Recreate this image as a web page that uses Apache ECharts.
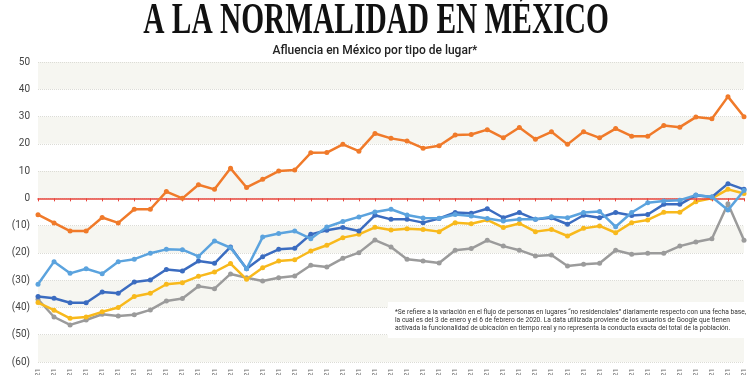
<!DOCTYPE html>
<html>
<head>
<meta charset="utf-8">
<script src="https://cdn.jsdelivr.net/npm/echarts@6/dist/echarts.min.js"></script>
<style>
  html, body { margin: 0; padding: 0; background: #fff; }
  #chart { width: 750px; height: 375px; }
</style>
</head>
<body>
<div id="chart"></div>
<script>
// semanas (lunes) de 2021
const weeks = [
  '04/01/21', '11/01/21', '18/01/21', '25/01/21', '01/02/21', '08/02/21', '15/02/21', '22/02/21',
  '01/03/21', '08/03/21', '15/03/21', '22/03/21', '29/03/21', '05/04/21', '12/04/21', '19/04/21',
  '26/04/21', '03/05/21', '10/05/21', '17/05/21', '24/05/21', '31/05/21', '07/06/21', '14/06/21',
  '21/06/21', '28/06/21', '05/07/21', '12/07/21', '19/07/21', '26/07/21', '02/08/21', '09/08/21',
  '16/08/21', '23/08/21', '30/08/21', '06/09/21', '13/09/21', '20/09/21', '27/09/21', '04/10/21',
  '11/10/21', '18/10/21', '25/10/21', '01/11/21', '08/11/21'
]

const orangeValues = [
  -6, -9, -12, -12, -7, -9, -4, -4, 2.5, 0, 5, 3.3, 11, 4, 7, 10,
  10.4, 16.7, 16.8, 19.8, 17.3, 23.8, 22, 21, 18.4, 19.3, 23.2, 23.4, 25.2, 22.2, 26, 21.7,
  24.4, 19.8, 24.4, 22.2, 25.6, 22.8, 22.8, 26.7, 26.1, 29.8, 29.2, 37.3, 29.9
]
const lightBlueValues = [
  -31.5, -23.2, -27.5, -25.8, -27.6, -23.2, -22.3, -20.1, -18.7, -18.8, -21.3, -15.6, -18.1, -25.8, -14.2, -12.9,
  -12, -14.8, -10.5, -8.5, -6.8, -5, -4, -6.1, -7.2, -7.3, -5.9, -6.5, -7.4, -8.3, -7.7, -7.7,
  -6.7, -7.1, -5.2, -4.8, -10.4, -5.2, -1.6, -1, -0.7, 1.2, 0.5, -4.3, 2.9
]
const darkBlueValues = [
  -36, -36.6, -38.3, -38.3, -34.3, -34.8, -30.7, -29.9, -26.1, -26.6, -23, -23.8, -17.8, -25.8, -21.4, -18.7,
  -18.3, -13.2, -11.7, -10.7, -12, -6.2, -7.7, -7.7, -8.9, -7.4, -5.2, -5.5, -3.8, -7.1, -5.2, -7.7,
  -7.1, -9.5, -6.2, -7.1, -5.2, -6.3, -5.9, -2.2, -2.2, 1.1, 0.5, 5.4, 3.3
]
const yellowValues = [
  -38.2, -41, -44, -43.5, -41.6, -40, -36, -34.8, -31.5, -30.9, -28.6, -27, -23.9, -29.7, -25.4, -23,
  -22.5, -19.3, -17.2, -14.4, -13.2, -10.6, -11.6, -11.1, -11.4, -12.2, -8.9, -9.3, -7.9, -10.7, -9.2, -12.2,
  -11.4, -13.8, -11, -10.1, -12.6, -8.9, -7.9, -5.1, -5.1, -1.2, 0, 3.3, 1.8
]
const grayValues = [
  -37, -43.5, -46.4, -44.6, -42.5, -43.1, -42.7, -40.9, -37.6, -36.7, -32.2, -33.1, -27.7, -29.1, -30.3, -29.1,
  -28.5, -24.5, -25.2, -22, -19.9, -15.3, -17.8, -22.3, -23, -23.7, -19, -18.4, -15.4, -17.5, -19, -21.1,
  -20.8, -24.8, -24.2, -23.8, -19, -20.5, -20.1, -20.1, -17.5, -16, -14.8, -2, -15.4
]

const noteLines = [
  '*Se refiere a la variación en el flujo de personas en lugares “no residenciales” diariamente respecto con una fecha base,',
  'la cual es del 3 de enero y el 6 de febrero de 2020. La data utilizada proviene de los usuarios de Google que tienen',
  'activada la funcionalidad de ubicación en tiempo real y no representa la conducta exacta del total de la población.'
]

const narrow = "'Liberation Sans Narrow', 'Roboto', sans-serif"

function lineSeries(name, data, color, z) {
  return {
    name,
    type: 'line',
    data,
    z,
    symbol: 'circle',
    symbolSize: 5,
    lineStyle: { color, width: 2.5 },
    itemStyle: { color },
    emphasis: { disabled: true }
  }
}

const chart = echarts.init(document.getElementById('chart'))

chart.setOption({
  animation: false,
  grid: { left: 38, right: 6, top: 62, bottom: 13, containLabel: false, outerBoundsMode: 'none' },
  xAxis: [
    {
      type: 'category',
      data: weeks,
      boundaryGap: false,
      axisLine: { onZero: true, lineStyle: { color: '#e8453c', width: 1.5 } },
      axisTick: { show: true, interval: 0, length: 3, lineStyle: { color: '#e8453c' } },
      axisLabel: { show: false },
      splitLine: { show: false },
      z: 5
    },
    {
      type: 'category',
      data: weeks,
      boundaryGap: false,
      position: 'bottom',
      axisLine: { show: false, onZero: false },
      axisTick: { show: false },
      axisLabel: {
        interval: 0,
        rotate: 90,
        margin: 6,
        fontSize: 8,
        color: '#666',
        fontFamily: narrow
      }
    }
  ],
  yAxis: {
    type: 'value',
    min: -60,
    max: 50,
    interval: 10,
    axisLine: { show: false },
    axisTick: { show: false },
    axisLabel: {
      margin: 8,
      fontSize: 10,
      color: '#444',
      fontFamily: narrow,
      formatter: (v) => (v < 0 ? '(' + (-v) + ')' : String(v))
    },
    splitLine: { show: true, lineStyle: { color: '#dcdcd6', type: 'dotted' } },
    splitArea: { show: true, areaStyle: { color: ['#f6f6f1', '#ffffff'] } }
  },
  graphic: [
    {
      type: 'text',
      x: 376,
      y: 0,
      scaleX: 0.98,
      scaleY: 1.45,
      style: {
        text: 'A LA NORMALIDAD EN MÉXICO',
        font: "bold 30px 'Liberation Serif', serif",
        fill: '#111',
        textAlign: 'center',
        textVerticalAlign: 'top'
      }
    },
    {
      type: 'text',
      x: 375,
      y: 51,
      style: {
        text: 'Afluencia en México por tipo de lugar*',
        font: "500 12px 'Roboto', sans-serif",
        fill: '#222',
        textAlign: 'center',
        textVerticalAlign: 'middle'
      }
    },
    {
      type: 'rect',
      z: 50,
      shape: { x: 388, y: 302, width: 362, height: 36 },
      style: { fill: '#ffffff' }
    },
    {
      type: 'text',
      z: 51,
      x: 395,
      y: 308,
      scaleX: 0.95,
      style: {
        text: noteLines.join('\n'),
        font: "7px " + narrow,
        lineHeight: 8,
        fill: '#333',
        textAlign: 'left',
        textVerticalAlign: 'top'
      }
    }
  ],
  series: [
    lineSeries('Gris', grayValues, '#9b9b9b', 2),
    lineSeries('Amarillo', yellowValues, '#f8b91c', 3),
    lineSeries('Azul oscuro', darkBlueValues, '#3b6cc0', 4),
    lineSeries('Azul claro', lightBlueValues, '#5ba3de', 5),
    lineSeries('Naranja', orangeValues, '#f07a2a', 6)
  ]
})
</script>
</body>
</html>
